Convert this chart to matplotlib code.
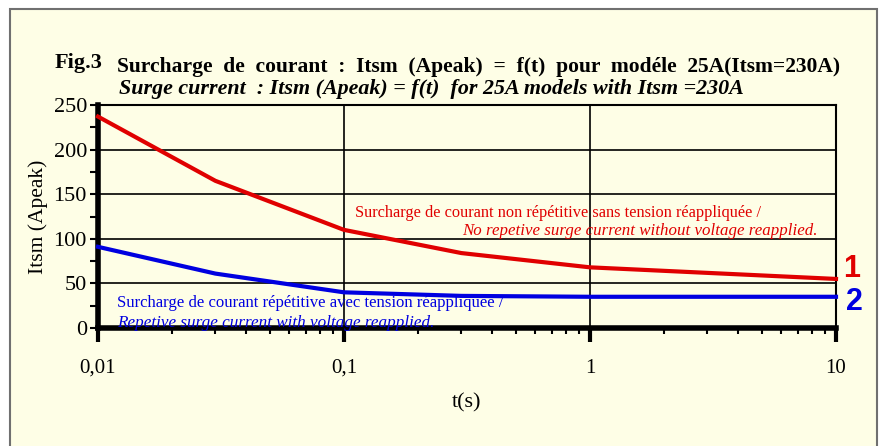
import matplotlib
matplotlib.use('Agg')
import matplotlib.pyplot as plt
from matplotlib.patches import Rectangle
from matplotlib.ticker import FixedLocator, NullFormatter

# curve 1: non repetitive surge current, curve 2: repetitive
t1 = [0.01, 0.03, 0.1, 0.3, 1, 10]
i1 = [237, 165, 110, 84, 68, 55]
t2 = [0.01, 0.03, 0.1, 0.3, 1, 3, 10]
i2 = [91, 61, 40, 36, 35, 35, 35]

xticks = [0.01, 0.1, 1, 10]
xlabels = ['0,01', '0,1', '1', '10']
yticks = [0, 50, 100, 150, 200, 250]

bg = '#fefee6'
serif = 'Liberation Serif'
sans = 'Liberation Sans'

fig = plt.figure(figsize=(8.82, 4.46), dpi=100)
fig.patch.set_facecolor('white')
fig.patches.append(Rectangle((10 / 882, -0.01), 867 / 882, 1 - 9 / 446 + 0.01,
                             transform=fig.transFigure, facecolor=bg,
                             edgecolor='#707070', linewidth=1.5, zorder=-10))

ax = fig.add_axes([98 / 882, 1 - 328 / 446, 738 / 882, 223 / 446])
ax.set_facecolor(bg)
ax.set_xscale('log')
ax.set_xlim(0.01, 10)
ax.set_ylim(0, 250)

ax.plot(t1, i1, color='#e00000', lw=3, zorder=3, clip_on=False)
ax.plot(t2, i2, color='#0000e0', lw=3, zorder=3, clip_on=False)

ax.set_xticks(xticks)
ax.set_xticklabels(xlabels, fontfamily=serif, fontsize=15)
ax.set_yticks(yticks)
ax.set_yticklabels([str(v) for v in yticks], fontfamily=serif, fontsize=16)
ax.yaxis.set_minor_locator(FixedLocator([25, 75, 125, 175, 225]))
ax.xaxis.set_minor_formatter(NullFormatter())
ax.tick_params(axis='x', which='major', length=10, width=3, pad=12)
ax.tick_params(axis='x', which='minor', length=4, width=1.5)
ax.tick_params(axis='y', which='both', length=6, width=1.5, pad=2)
ax.grid(True, which='major', color='black', lw=1.2)

for s in ['left', 'bottom']:
    ax.spines[s].set_linewidth(4)
for s in ['top', 'right']:
    ax.spines[s].set_linewidth(1.5)

ax.set_xlabel('t(s)', fontfamily=serif, fontsize=16, labelpad=11)
ax.set_ylabel('Itsm (Apeak)', fontfamily=serif, fontsize=15.5, labelpad=4)

fig.text(55 / 882, 1 - 63 / 446, 'Fig.3', fontfamily=serif, fontsize=16,
         fontweight='bold', va='center')
fig.text(117 / 882, 1 - 67 / 446,
         'Surcharge  de  courant  :  Itsm  (Apeak)  =  f(t)  pour  modéle  25A(Itsm=230A)',
         fontfamily=serif, fontsize=15.5, fontweight='bold', va='center')
fig.text(119 / 882, 1 - 89 / 446,
         'Surge current  : Itsm (Apeak) = f(t)  for 25A models with Itsm =230A',
         fontfamily=serif, fontsize=15.8, fontweight='bold', style='italic', va='center')

fig.text(355 / 882, 1 - 213 / 446,
         'Surcharge de courant non répétitive sans tension réappliquée /',
         fontfamily=serif, fontsize=11.8, color='#e00000', va='center')
fig.text(818 / 882, 1 - 231 / 446,
         'No repetive surge current without voltage reapplied.',
         fontfamily=serif, fontsize=12.2, style='italic', color='#e00000',
         va='center', ha='right')
fig.text(117 / 882, 1 - 303 / 446,
         'Surcharge de courant répétitive avec tension réappliquée /',
         fontfamily=serif, fontsize=12.1, color='#0000e0', va='center')
fig.text(117 / 882, 1 - 323 / 446,
         'Repetive surge current with voltage reapplied.',
         fontfamily=serif, fontsize=12.3, style='italic', color='#0000e0', va='center')

fig.text(843 / 882, 1 - 269 / 446, '1', fontfamily=sans, fontsize=22,
         fontweight='bold', color='#e00000', va='center')
fig.text(846 / 882, 1 - 302 / 446, '2', fontfamily=sans, fontsize=22,
         fontweight='bold', color='#0000e0', va='center')

fig.savefig('out.png', dpi=100)
